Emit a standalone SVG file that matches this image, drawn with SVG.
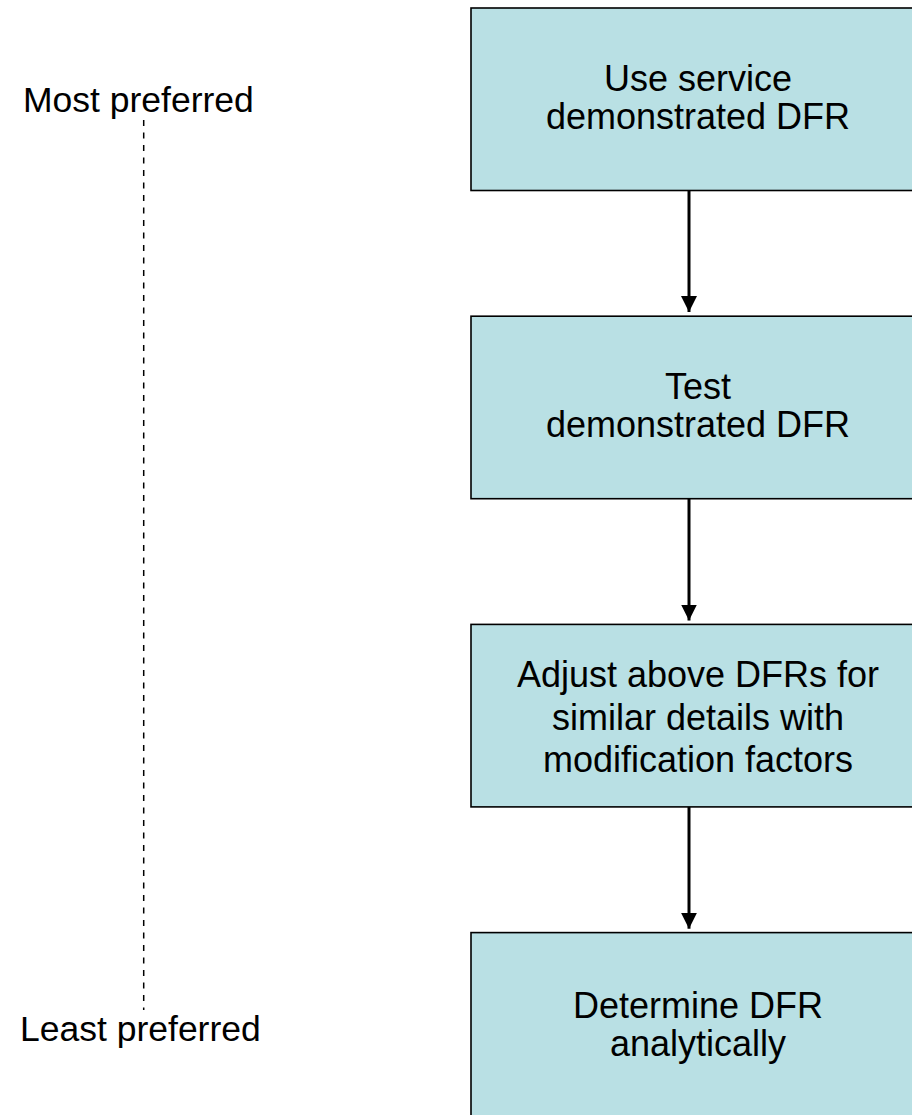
<svg xmlns="http://www.w3.org/2000/svg" width="912" height="1115" viewBox="0 0 912 1115">
  <defs>
    <style>
      .box { fill: #B9E0E4; stroke: #000; stroke-width: 1.6; }
      .lbl { font-family: "Liberation Sans", Arial, sans-serif; font-size: 36px; fill: #000; text-anchor: middle; }
      .side { font-family: "Liberation Sans", Arial, sans-serif; font-size: 35.5px; fill: #000; }
      .flow { stroke: #000; stroke-width: 3; fill: none; marker-end: url(#arrow); }
      .scale { stroke: #000; stroke-width: 1.5; stroke-dasharray: 6 6.5; fill: none; }
    </style>
    <marker id="arrow" markerWidth="16" markerHeight="16" refX="16" refY="8" orient="auto" markerUnits="userSpaceOnUse">
      <path d="M0,0 L16,8 L0,16 Z" fill="#000"/>
    </marker>
  </defs>
  <rect width="912" height="1115" fill="#fff"/>

  <!-- preference scale -->
  <g id="scale">
    <line class="scale" x1="143.7" y1="120" x2="143.7" y2="1010"/>
    <text class="side" x="23" y="112">Most preferred</text>
    <text class="side" x="20" y="1041">Least preferred</text>
  </g>

  <!-- connectors -->
  <g id="connectors">
    <line class="flow" x1="689" y1="190.5" x2="689" y2="312"/>
    <line class="flow" x1="689" y1="498.8" x2="689" y2="620.5"/>
    <line class="flow" x1="689" y1="807" x2="689" y2="928.7"/>
  </g>

  <g id="node-service">
    <rect class="box" x="471" y="8" width="460" height="182.5"/>
    <text class="lbl" x="698" y="91">Use service</text>
    <text class="lbl" x="698" y="129">demonstrated DFR</text>
  </g>

  <g id="node-test">
    <rect class="box" x="471" y="316.2" width="460" height="182.5"/>
    <text class="lbl" x="698" y="399.2">Test</text>
    <text class="lbl" x="698" y="437.2">demonstrated DFR</text>
  </g>

  <g id="node-adjust">
    <rect class="box" x="471" y="624.4" width="460" height="182.5"/>
    <text class="lbl" x="698" y="686.7">Adjust above DFRs for</text>
    <text class="lbl" x="698" y="729.7">similar details with</text>
    <text class="lbl" x="698" y="771.7">modification factors</text>
  </g>

  <g id="node-analytic">
    <rect class="box" x="471" y="932.6" width="460" height="200"/>
    <text class="lbl" x="698" y="1018">Determine DFR</text>
    <text class="lbl" x="698" y="1056">analytically</text>
  </g>
</svg>
